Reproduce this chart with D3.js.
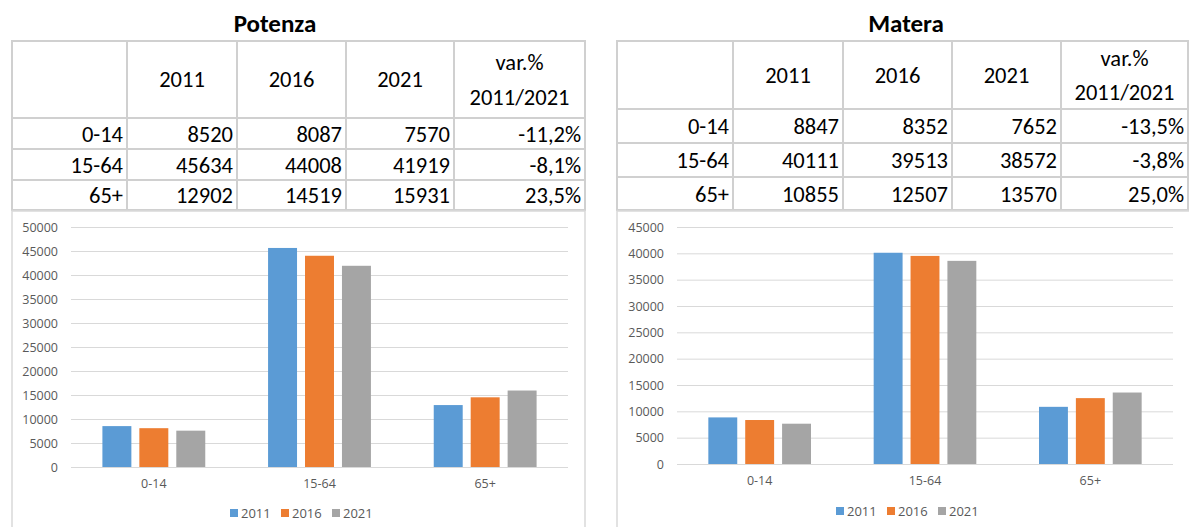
<!DOCTYPE html>
<html>
<head>
<meta charset="utf-8">
<script src="https://cdn.jsdelivr.net/npm/d3@7"></script>
<style>
  html, body { margin: 0; padding: 0; background: #fff; }
  svg { display: block; }
  .tbl text { font-family: Carlito, Calibri, Lato, sans-serif; font-size: 22.5px; fill: #000; }
  .ttl { font-family: Carlito, Calibri, Lato, sans-serif; font-size: 25px; font-weight: bold; fill: #000; }
  .axis text { font-family: "Open Sans", sans-serif; font-size: 12.5px; fill: #595959; }
  .axis line { stroke: #d9d9d9; }
  .legend text { font-family: "Open Sans", sans-serif; font-size: 13px; fill: #595959; }
</style>
</head>
<body>
<div id="chart"></div>
<script>
// data
var categories = ["0-14", "15-64", "65+"];
var years = ["2011", "2016", "2021"];
var potenzaValues = [
    [8520, 8087, 7570],
    [45634, 44008, 41919],
    [12902, 14519, 15931]
];
var potenzaVar = ["-11,2%", "-8,1%", "23,5%"];
var materaValues = [
    [8847, 8352, 7652],
    [40111, 39513, 38572],
    [10855, 12507, 13570]
];
var materaVar = ["-13,5%", "-3,8%", "25,0%"];
var colors = ["#5b9bd5", "#ed7d31", "#a5a5a5"];

var W = 1189, H = 527;

var svg = d3.select("#chart").append("svg")
    .attr("width", W)
    .attr("height", H);

var drawPanel = function (p) {

    var g = svg.append("g");

    // title
    g.append("text")
        .attr("class", "ttl")
        .attr("x", p.titleX)
        .attr("y", 32)
        .attr("text-anchor", "middle")
        .text(p.title);

    // table
    var tbl = g.append("g").attr("class", "tbl");
    var cols = p.cols, rows = p.rows;
    var x0 = cols[0], x1 = cols[cols.length - 1];
    var y0 = rows[0], y1 = rows[rows.length - 1];

    tbl.append("rect")
        .attr("x", x0).attr("y", y0)
        .attr("width", x1 - x0).attr("height", y1 - y0)
        .attr("fill", "none").attr("stroke", "#d0d0d0").attr("stroke-width", 2);
    cols.slice(1, -1).forEach(function (c) {
        tbl.append("line").attr("x1", c).attr("x2", c).attr("y1", y0).attr("y2", y1)
            .attr("stroke", "#d0d0d0").attr("stroke-width", 2);
    });
    rows.slice(1, -1).forEach(function (r) {
        tbl.append("line").attr("x1", x0).attr("x2", x1).attr("y1", r).attr("y2", r)
            .attr("stroke", "#d0d0d0").attr("stroke-width", 2);
    });

    // header
    var hMid = (rows[0] + rows[1]) / 2;
    years.forEach(function (yr, i) {
        tbl.append("text")
            .attr("x", (cols[i + 1] + cols[i + 2]) / 2)
            .attr("y", hMid)
            .attr("dy", "0.35em")
            .attr("text-anchor", "middle")
            .text(yr);
    });
    var vx = (cols[4] + cols[5]) / 2;
    tbl.append("text").attr("x", vx).attr("y", hMid - p.hSplit).attr("dy", "0.35em")
        .attr("text-anchor", "middle").text("var.%");
    tbl.append("text").attr("x", vx).attr("y", hMid + p.hSplit).attr("dy", "0.35em")
        .attr("text-anchor", "middle").text("2011/2021");

    // body rows
    categories.forEach(function (cat, r) {
        var ym = (rows[r + 1] + rows[r + 2]) / 2;
        var cells = [cat].concat(p.values[r].map(String)).concat([p.varPct[r]]);
        cells.forEach(function (txt, c) {
            tbl.append("text")
                .attr("x", cols[c + 1] - 4)
                .attr("y", ym)
                .attr("dy", "0.36em")
                .attr("text-anchor", "end")
                .text(txt);
        });
    });

    // chart box
    g.append("rect")
        .attr("x", p.box[0]).attr("y", y1 + 1)
        .attr("width", p.box[1] - p.box[0]).attr("height", H - y1 + 10)
        .attr("fill", "#fff").attr("stroke", "#d9d9d9").attr("stroke-width", 1.5);

    var y = d3.scaleLinear().domain([0, p.yMax]).range([p.yRange[0], p.yRange[1]]);
    var xc = d3.scaleBand().domain(categories).range([p.plotX[0], p.plotX[1]]);
    var xs = d3.scaleBand().domain(years).range([0, xc.bandwidth()])
        .paddingInner(0.216).paddingOuter(0.85);

    var gw = p.plotX[1] - p.plotX[0];

    g.append("g")
        .attr("class", "axis")
        .attr("transform", "translate(" + p.plotX[0] + ",0)")
        .call(d3.axisLeft(y).ticks(p.yMax / 5000).tickSize(-gw).tickPadding(p.tickPad).tickFormat(d3.format("d")))
        .call(function (a) { a.select(".domain").remove(); });

    g.append("g")
        .attr("class", "axis")
        .attr("transform", "translate(0," + p.yRange[0] + ")")
        .call(d3.axisBottom(xc).tickSize(0).tickPadding(12))
        .call(function (a) { a.select(".domain").remove(); });

    // bars
    var grp = g.selectAll(".grp").data(categories).enter().append("g")
        .attr("transform", function (d) { return "translate(" + xc(d) + ",0)"; });
    grp.selectAll("rect")
        .data(function (d, i) { return p.values[i].map(function (v, j) { return {year: years[j], v: v, j: j}; }); })
        .enter().append("rect")
        .attr("x", function (d) { return xs(d.year); })
        .attr("y", function (d) { return y(d.v); })
        .attr("width", xs.bandwidth())
        .attr("height", function (d) { return y(0) - y(d.v); })
        .attr("fill", function (d) { return colors[d.j]; });

    // legend
    var lg = g.append("g").attr("class", "legend")
        .attr("transform", "translate(" + p.legendX + "," + p.legendY + ")");
    var item = lg.selectAll("g").data(years).enter().append("g")
        .attr("transform", function (d, i) { return "translate(" + (i * 51) + ",0)"; });
    item.append("rect").attr("x", 0).attr("y", -4).attr("width", 8).attr("height", 8)
        .attr("fill", function (d, i) { return colors[i]; });
    item.append("text").attr("x", 11).attr("y", 0).attr("dy", "0.35em").text(function (d) { return d; });
};

drawPanel({
    title: "Potenza", titleX: 275,
    cols: [12, 127, 237, 346, 454, 585],
    rows: [41, 118, 149, 180, 210],
    hSplit: 17.5,
    values: potenzaValues, varPct: potenzaVar,
    box: [12, 585],
    yMax: 50000, yRange: [467, 227],
    plotX: [71, 568], tickPad: 13,
    legendX: 230, legendY: 513
});

drawPanel({
    title: "Matera", titleX: 906,
    cols: [617, 733, 843, 952, 1061, 1188],
    rows: [41, 109, 143, 177, 210],
    hSplit: 17,
    values: materaValues, varPct: materaVar,
    box: [617, 1195],
    yMax: 45000, yRange: [464, 227],
    plotX: [677, 1173], tickPad: 13,
    legendX: 836, legendY: 511
});
</script>
</body>
</html>
